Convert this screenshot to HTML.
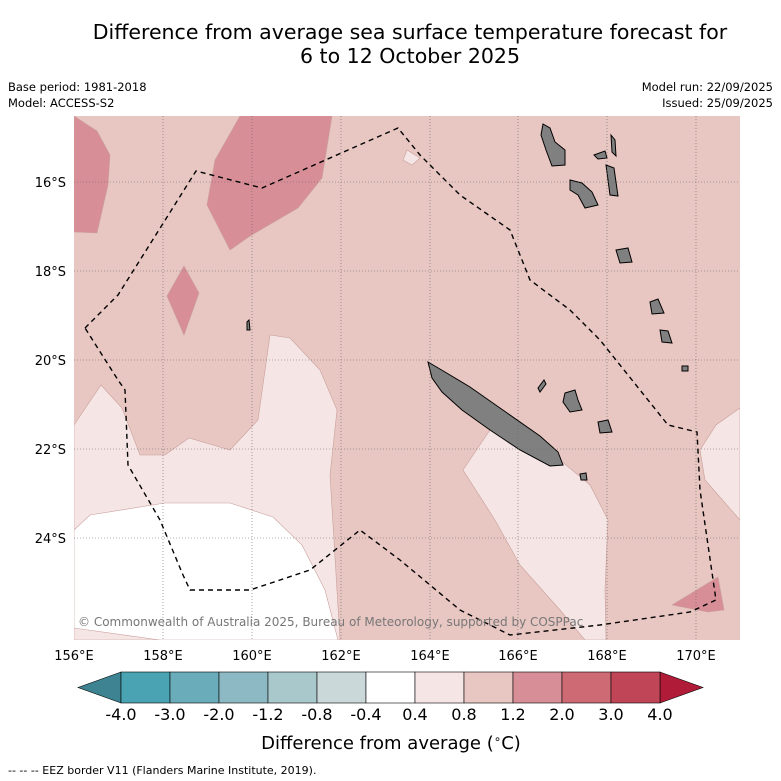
<!DOCTYPE html>
<html><head><meta charset="utf-8"><style>
body{margin:0;background:#fff;width:781px;height:781px;overflow:hidden;font-family:"Liberation Sans","DejaVu Sans",sans-serif;}
svg{position:absolute;left:0;top:0}
</style></head><body>
<svg width="781" height="781" font-family="DejaVu Sans, Liberation Sans, sans-serif">
<text x="410" y="39" font-size="20.5" text-anchor="middle">Difference from average sea surface temperature forecast for</text>
<text x="410" y="63" font-size="20.5" text-anchor="middle">6 to 12 October 2025</text>
<text x="8" y="91" font-size="11.5">Base period: 1981-2018</text>
<text x="8" y="107" font-size="11.5">Model: ACCESS-S2</text>
<text x="773" y="91" font-size="11.5" text-anchor="end">Model run: 22/09/2025</text>
<text x="773" y="107" font-size="11.5" text-anchor="end">Issued: 25/09/2025</text>
<defs><clipPath id="mc"><rect x="74" y="116" width="666" height="524"/></clipPath></defs>
<g clip-path="url(#mc)">
<rect x="74" y="116" width="666" height="524" fill="#e8c6c2"/>
<g stroke="#c9a09c" stroke-width="0.6">
<polygon fill="#f5e6e5" points="74,425 101,385 122,408 140,455 165,455 189,438 230,450 258,420 270,335 290,338 320,370 337,410 330,475 340,640 74,640"/>
<polygon fill="#ffffff" points="74,530 90,515 165,503 230,503 273,517 302,545 325,590 338,640 160,640 74,628"/>
<polygon fill="#f5e6e5" points="463,470 490,430 515,440 560,460 590,485 608,520 605,590 606,640 585,640 560,610 520,565 495,520"/>
<polygon fill="#f5e6e5" points="740,408 716,425 700,450 705,480 740,520"/>
<polygon fill="#f5e6e5" points="403,160 407,150 420,158 412,165"/>
<polygon fill="#d88e96" points="74,116 97,131 110,155 108,185 97,233 74,232"/>
<polygon fill="#d88e96" points="240,116 332,116 322,178 298,208 250,236 230,250 207,205 215,160"/>
<polygon fill="#d88e96" points="184,266 199,293 184,335 167,296"/>
<polygon fill="#d88e96" points="672,605 718,577 724,610 708,612"/>
</g>
<g fill="#808080" stroke="#000" stroke-width="1">
<polygon points="428,362 445,372 470,387 500,408 540,436 558,452 563,465 550,466 520,450 490,430 462,410 442,392 432,378"/>
<polygon points="543,124 550,128 555,142 565,150 565,165 552,166 546,150 541,135"/>
<polygon points="570,180 582,183 592,192 598,205 585,208 578,195 570,190"/>
<polygon points="611,135 615,140 616,156 612,152"/>
<polygon points="594,155 605,151 607,158 598,159"/>
<polygon points="606,165 614,168 618,196 610,195"/>
<polygon points="616,250 628,248 632,262 620,263"/>
<polygon points="650,302 658,299 664,313 652,314"/>
<polygon points="660,330 668,331 672,343 662,342"/>
<polygon points="565,393 575,390 578,400 582,410 570,412 563,402"/>
<polygon points="598,422 608,420 612,432 600,433"/>
<polygon points="538,388 544,380 546,384 540,392"/>
<polygon points="580,474 586,473 587,480 581,480"/>
<polygon points="247,322 249,320 250,330 247,330"/>
<polygon points="682,366 688,366 688,371 682,371"/>
</g>
<g stroke="#666" stroke-width="0.6" stroke-dasharray="1,2">
<line x1="163" y1="116" x2="163" y2="640"/><line x1="252" y1="116" x2="252" y2="640"/><line x1="341" y1="116" x2="341" y2="640"/><line x1="430" y1="116" x2="430" y2="640"/><line x1="518" y1="116" x2="518" y2="640"/><line x1="607" y1="116" x2="607" y2="640"/><line x1="696" y1="116" x2="696" y2="640"/>
<line x1="74" y1="182" x2="740" y2="182"/><line x1="74" y1="271" x2="740" y2="271"/><line x1="74" y1="360" x2="740" y2="360"/><line x1="74" y1="449" x2="740" y2="449"/><line x1="74" y1="538" x2="740" y2="538"/>
</g>
<polyline fill="none" stroke="#000" stroke-width="1.4" stroke-dasharray="5,4" points="85,328 118,295 196,171 262,188 398,128 420,155 460,195 510,230 530,280 570,310 600,340 632,380 668,425 697,432 700,490 716,600 690,612 600,625 510,635 460,610 400,560 360,530 310,570 250,590 190,590 183,575 160,520 128,465 125,390 118,380 85,328"/>
<text x="78" y="626" font-size="12" fill="#777">© Commonwealth of Australia 2025, Bureau of Meteorology, supported by COSPPac</text>
</g>
<g font-size="13">
<text x="74" y="660" text-anchor="middle">156°E</text><text x="163" y="660" text-anchor="middle">158°E</text><text x="252" y="660" text-anchor="middle">160°E</text><text x="341" y="660" text-anchor="middle">162°E</text><text x="430" y="660" text-anchor="middle">164°E</text><text x="518" y="660" text-anchor="middle">166°E</text><text x="607" y="660" text-anchor="middle">168°E</text><text x="696" y="660" text-anchor="middle">170°E</text>
<text x="66" y="187" text-anchor="end">16°S</text><text x="66" y="276" text-anchor="end">18°S</text><text x="66" y="365" text-anchor="end">20°S</text><text x="66" y="454" text-anchor="end">22°S</text><text x="66" y="543" text-anchor="end">24°S</text>
</g>
<g id="cb"></g>
<text x="391" y="749" font-size="18" text-anchor="middle">Difference from average (<tspan font-size="12" dy="-6">∘</tspan><tspan dy="6">C)</tspan></text>
<text x="8" y="774" font-size="11">--  --  -- EEZ border V11 (Flanders Marine Institute, 2019).</text>
</svg>
<script>
const ticks=["-4.0","-3.0","-2.0","-1.2","-0.8","-0.4","0.4","0.8","1.2","2.0","3.0","4.0"];
const colors=["#4aa3b2","#6aacb9","#8cb9c3","#a9c8cc","#cbd8d9","#ffffff","#f5e6e5","#e8c6c2","#d88e96","#cd6a74","#c04557"];
const NS="http://www.w3.org/2000/svg",g=document.getElementById('cb');
const x0=121,x1=660,y0=672,h=31,w=(x1-x0)/colors.length;
function mk(t,a){const e=document.createElementNS(NS,t);for(const k in a)e.setAttribute(k,a[k]);g.appendChild(e);return e;}
let e=mk('polygon',{points:`${x0},${y0} ${x0},${y0+h} 78,${y0+h/2}`,fill:'#3d8391',stroke:'#000','stroke-width':0.6});


e=mk('polygon',{points:`${x1},${y0} ${x1},${y0+h} 703,${y0+h/2}`,fill:'#b01c38',stroke:'#000','stroke-width':0.6});


colors.forEach((c,i)=>{const r=mk('rect',{x:x0+i*w,y:y0,width:w,height:h,fill:c,stroke:'#000','stroke-width':0.6});

});
ticks.forEach((t,i)=>{const tx=mk('text',{x:x0+i*w,y:720,'font-size':16,'text-anchor':'middle'});tx.textContent=t;

});
</script>
</body></html>
